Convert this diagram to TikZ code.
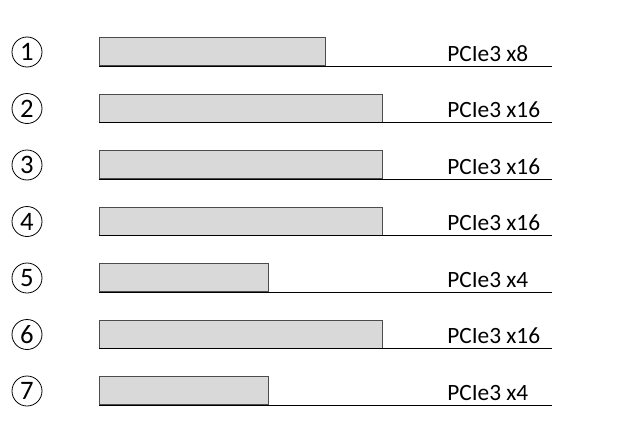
\documentclass[tikz,border=0pt]{standalone}
\usepackage{fontspec}
\setmainfont{Carlito}
\begin{document}
\begin{tikzpicture}[x=0.75pt,y=-0.75pt,
  slot/.style={draw=black!70,fill=black!15,line width=0.7pt,minimum height=28*0.75pt,inner sep=0pt,anchor=south west},
  num/.style={circle,draw=black,line width=0.6pt,minimum size=30*0.75pt,inner sep=0pt,font=\fontsize{20}{20}\selectfont},
  lbl/.style={anchor=base west,inner sep=0pt,font=\fontsize{17.5}{18}\selectfont},
  base/.style={line width=0.7pt,draw=black}]
\useasboundingbox (0,0) rectangle (635,432);
\foreach \i/\w/\t in {1/226/x8,2/283/x16,3/283/x16,4/283/x16,5/169/x4,6/283/x16,7/169/x4}{
  \pgfmathsetmacro{\yb}{66+56.5*(\i-1)}
  \node[slot,minimum width=\w*0.75pt] (s\i) at (99,\yb) {};
  \coordinate (e\i) at (552,\yb);
  \draw[base] (s\i.south west) -- (e\i);
  \node[num] (n\i) at (27,\yb-14) {\i};
  \node[lbl] (l\i) at (447,\yb-5) {PCIe3 \t};
}
\end{tikzpicture}
\end{document}
